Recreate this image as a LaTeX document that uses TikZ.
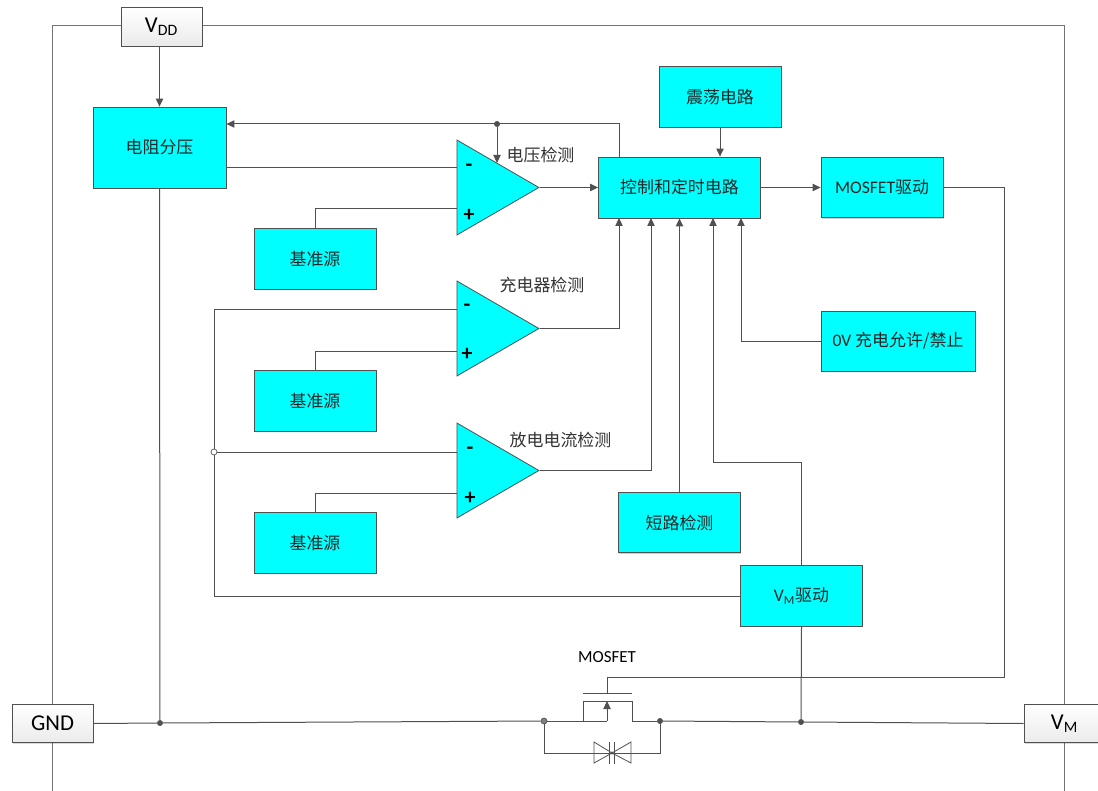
\documentclass[tikz,border=0pt]{standalone}
\usepackage{fontspec}
\setmainfont{Carlito}
\newfontfamily\cjk{Noto Sans CJK SC}[Scale=1]
\usetikzlibrary{arrows.meta,shapes.geometric,shadows}
\definecolor{wire}{HTML}{505050}
\definecolor{boxc}{HTML}{00FFFF}
\tikzset{
  x=0.75pt,y=-0.75pt,
  wireline/.style={draw=wire,line width=0.75pt},
  framel/.style={draw=wire!80,line width=0.75pt},
  arr/.style={wireline,-{Triangle[length=6pt,width=5.5pt,fill=wire]}},
  cyanbox/.style={draw=wire,fill=boxc,line width=0.6pt,inner sep=0pt,align=center,text=black!85,font=\cjk\fontsize{12.7pt}{14pt}\selectfont,
    drop shadow={shadow xshift=0.7pt,shadow yshift=-0.7pt,fill=black,opacity=0.18}},
  box122/.style={cyanbox,minimum width=91.5pt,minimum height=45.5pt},
  pinbox/.style={draw=wire,line width=0.75pt,top color=white,bottom color=black!8,minimum width=60.75pt,minimum height=29pt,inner sep=0pt,font=\fontsize{17pt}{19pt}\selectfont,
    drop shadow={shadow xshift=0.7pt,shadow yshift=-0.7pt,fill=black,opacity=0.15}},
  comparator/.style={isosceles triangle,isosceles triangle apex angle=60,isosceles triangle stretches,draw=wire,fill=boxc,line width=0.6pt,inner sep=0pt,minimum width=71.25pt,minimum height=61.5pt},
  lbl/.style={inner sep=0pt,font=\cjk\fontsize{12.7pt}{14pt}\selectfont,text=black!80},
  sign/.style={inner sep=0pt,font=\bfseries\fontsize{16.5pt}{18pt}\selectfont},
  dot/.style={circle,fill=wire,draw=wire,inner sep=0pt,minimum size=4pt},
  opendot/.style={circle,fill=white,draw=wire,inner sep=0pt,minimum size=4.5pt,line width=0.5pt},
  greydot/.style={circle,fill=gray,draw=wire,inner sep=0pt,minimum size=4.5pt,line width=0.5pt},
}
\newcommand{\subs}[1]{\textsubscript{#1}}
\newcommand{\lat}{\rmfamily\fontsize{13.2pt}{14pt}\selectfont}
\begin{document}
\begin{tikzpicture}
\clip (0,0) rectangle (1098,791);
\fill[white] (0,0) rectangle (1098,791);
% outer frame
\coordinate (fbl) at (52,791);
\coordinate (fbr) at (1064,791);
\coordinate (ftl) at (52,26);
\coordinate (ftr) at (1064,26);
\draw[framel] (fbl) -- (ftl) -- (ftr) -- (fbr);

% pins
\node[pinbox] (vdd) at (161.5,27) {V\subs{DD}};
\node[pinbox] (gnd) at (52.5,723.5) {GND};
\node[pinbox] (vm) at (1064.5,723.5) {V\subs{M}};

% boxes
\node[cyanbox,minimum width=99.75pt,minimum height=60.75pt] (div) at (159.5,147.5) {电阻分压};
\node[box122] (osc) at (720,97) {震荡电路};
\node[cyanbox,minimum width=121.5pt,minimum height=45.75pt] (ctrl) at (679.5,187.5) {控制和定时电路};
\node[box122] (drv) at (882,187.5) {{\lat MOSFET}驱动};
\node[box122] (ref1) at (315,259) {基准源};
\node[box122] (ref2) at (315,401) {基准源};
\node[box122] (ref3) at (315,543) {基准源};
\node[cyanbox,minimum width=115.5pt,minimum height=45pt] (zero) at (898,341) {{\lat 0V} 充电允许/禁止};
\node[box122] (short) at (679.5,522.5) {短路检测};
\node[box122] (vmdrv) at (801.5,596) {{\lat V\subs{M}}驱动};

% comparators
\node[comparator,anchor=lower side] (c1) at (456.5,187.5) {};
\node[comparator,anchor=lower side] (c2) at (456.5,328.5) {};
\node[comparator,anchor=lower side] (c3) at (456.5,470.5) {};
\node[sign] (m1) at (469,168) {-};
\node[sign] (p1) at (469,215) {+};
\node[sign] (m2) at (467,308) {-};
\node[sign] (p2) at (467,354) {+};
\node[sign] (m3) at (470,451) {-};
\node[sign] (p3) at (470,498) {+};
\coordinate (c1m) at (457,168);
\coordinate (c1p) at (457,209);
\coordinate (c2m) at (457,310);
\coordinate (c2p) at (457,351);
\coordinate (c3m) at (457,452);
\coordinate (c3p) at (457,493);
\coordinate (c1t) at (497,163);

% labels
\node[lbl] (l1) at (540.5,155) {电压检测};
\node[lbl] (l2) at (542,285) {充电器检测};
\node[lbl] (l3) at (560.5,440) {放电电流检测};
\node[inner sep=0pt,font=\fontsize{12.7pt}{14pt}\selectfont] (lm) at (607,657) {MOSFET};

% junctions
\node[dot] (jtop) at (497,124) {};
\node[opendot] (jopen) at (214,452) {};
\node[dot] (jg) at (160,723) {};
\node[greydot] (jl) at (544,721) {};
\node[dot] (jr) at (660,721) {};
\node[dot] (jv) at (801,722) {};

% connectors
\draw[arr] (vdd.south -| div.north) -- (div.north);
\draw[wireline] (div.east |- c1m) -- (c1m);
\draw[arr] (ctrl.north -| 619,0) -- (619,124) -- (div.east |- jtop);
\draw[arr] (jtop) -- (c1t);
\draw[wireline] (ref1.north) |- (c1p);
\draw[wireline] (ref2.north) |- (c2p);
\draw[wireline] (ref3.north) |- (c3p);
\draw[arr] (c1.apex) -- (ctrl.west |- c1.apex);
\draw[arr] (c2.apex) -| (619,218);
\draw[arr] (c3.apex) -| (651,218);
\draw[arr] (short.north) -- (short.north |- ctrl.south);
\draw[arr] (vmdrv.north) |- (713,462) -- (713,218);
\draw[arr] (zero.west) -| (741,218);
\draw[arr] (osc.south) -- (osc.south |- ctrl.north);
\draw[arr] (ctrl.east) -- (drv.west);
\draw[wireline] (vmdrv.west) -| (jopen.south);
\draw[wireline] (jopen.north) |- (c2m);
\draw[wireline] (jopen.east) -- (c3m);
\draw[wireline] (div.south) -- (jg);
\draw[wireline] (vmdrv.south) -- (jv);
\draw[wireline] (gnd.east) -- (jg) -- (jl);
\draw[wireline] (jr) -- (jv) -- (vm.west);

% MOSFET
\coordinate (gate) at (607,693);
\coordinate (cha) at (607,701);
\coordinate (drop) at (607,721);
\draw[wireline] (drv.east) -| (1004,677) -| (gate);
\draw[wireline] (583,693) -- (632,693);
\draw[wireline] (jl) -- (583,721) -- (583,701) -- (632,701) -- (632,721) -- (jr);
\draw[arr] (drop) -- (cha);
\draw[wireline] (583,721) -- (drop);
% body diodes
\coordinate (dl) at (594,753);
\coordinate (dr) at (631,753);
\draw[wireline] (jl) |- (dl);
\draw[wireline] (jr) |- (dr);
\draw[wireline] (dl) -- (631,753);
\draw[wireline,line width=0.6pt] (594,742) -- (594,763) -- (612,753) -- cycle;
\draw[wireline,line width=0.6pt] (631,742) -- (631,763) -- (612,753) -- cycle;
\draw[wireline,line width=0.6pt] (609.5,742) -- (609.5,764);
\draw[wireline,line width=0.6pt] (614.5,742) -- (614.5,764);
\fill[wire] (612,753) circle (1.2pt);
\end{tikzpicture}
\end{document}
